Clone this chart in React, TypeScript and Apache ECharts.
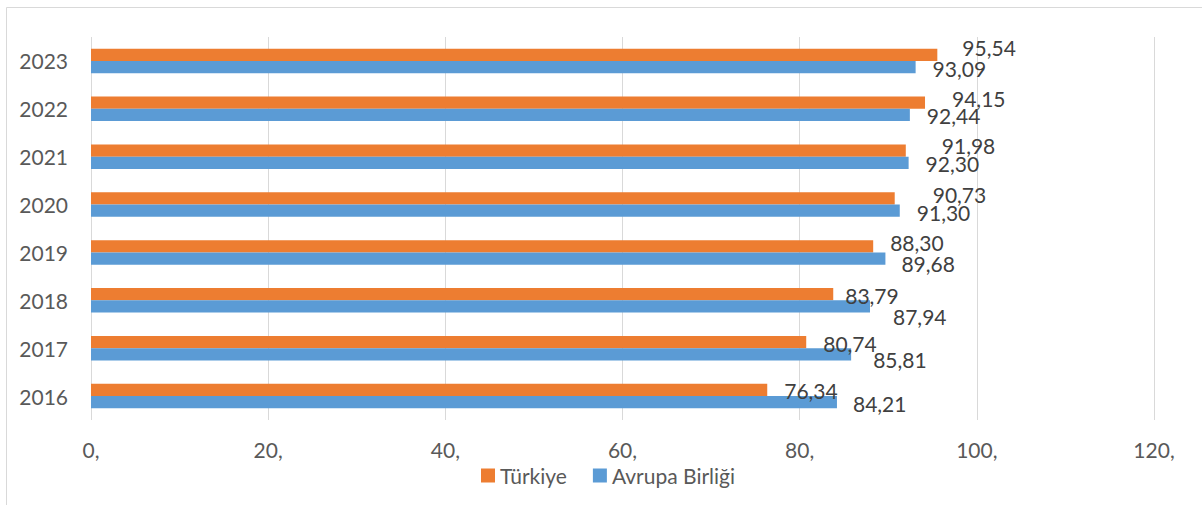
import React, { useEffect, useRef } from "react";
import * as echarts from "echarts";

const years = ["2016", "2017", "2018", "2019", "2020", "2021", "2022", "2023"];
const turkiye = [76.34, 80.74, 83.79, 88.3, 90.73, 91.98, 94.15, 95.54];
const avrupaBirligi = [84.21, 85.81, 87.94, 89.68, 91.3, 92.3, 92.44, 93.09];
const xTicks = [0, 20, 40, 60, 80, 100, 120];

// label nudges [dx, dy] in px, as placed in the original
const turkiyeLabelNudge = [
  [17, 1], [17, 1], [12, 1], [17, -4], [38, -4], [36, -5], [27, -4], [25, -7],
];
const abLabelNudge = [
  [16, 1], [22, 5], [23, 10], [16, 5], [17, 2], [17, 1], [17, 1], [17, 1],
];

const FONT = "Lato, 'Open Sans', sans-serif";
const fmt = (v: number) => v.toFixed(2).replace(".", ",");

export default function App() {
  const ref = useRef<HTMLDivElement>(null);
  useEffect(() => {
    document.body.style.margin = "0";
    const chart = echarts.init(ref.current!, undefined, { renderer: "svg" });
    const mk = (vals: number[], nudge: number[][]) =>
      vals.map((v, i) => ({
        value: v,
        label: { offset: nudge[i] },
      }));
    const labelStyle = {
      show: true,
      position: "right",
      distance: 0,
      fontFamily: FONT,
      fontSize: 21,
      lineHeight: 15,
      color: "#404040",
      formatter: (p: any) => fmt(p.value),
    };
    chart.setOption({
      animation: false,
      backgroundColor: "#ffffff",
      graphic: [
        {
          type: "rect",
          shape: { x: 6.5, y: 7.5, width: 1400, height: 700 },
          style: { fill: "none", stroke: "#d9d9d9", lineWidth: 1 },
          silent: true,
        },
      ],
      grid: { left: 91, right: 48, top: 37, bottom: 85, containLabel: false },
      legend: {
        data: ["Türkiye", "Avrupa Birliği"],
        left: 476,
        top: 460,
        itemWidth: 14,
        itemHeight: 14,
        itemGap: 26,
        icon: "rect",
        textStyle: { fontFamily: FONT, fontSize: 21, color: "#595959" },
      },
      xAxis: {
        type: "value",
        min: 0,
        max: xTicks[xTicks.length - 1],
        interval: xTicks[1] - xTicks[0],
        axisLine: { show: false },
        axisTick: { show: false },
        splitLine: { show: true, lineStyle: { color: "#d9d9d9", width: 1 } },
        axisLabel: {
          margin: 19,
          fontFamily: FONT,
          fontSize: 21,
          color: "#595959",
          formatter: (v: number) => `${v},`,
        },
      },
      yAxis: {
        type: "category",
        data: years,
        axisLine: { show: false },
        axisTick: { show: false },
        axisLabel: { margin: 23, fontFamily: FONT, fontSize: 21, color: "#595959" },
      },
      series: [
        {
          name: "Türkiye",
          type: "bar",
          data: mk(turkiye, turkiyeLabelNudge),
          barWidth: 12.25,
          barGap: "0%",
          itemStyle: { color: "#ED7D31" },
          label: labelStyle,
        },
        {
          name: "Avrupa Birliği",
          type: "bar",
          data: mk(avrupaBirligi, abLabelNudge),
          barWidth: 12.25,
          barGap: "0%",
          itemStyle: { color: "#5B9BD5" },
          label: labelStyle,
        },
      ],
    });
    return () => chart.dispose();
  }, []);
  return <div ref={ref} style={{ width: 1202, height: 505 }} />;
}
